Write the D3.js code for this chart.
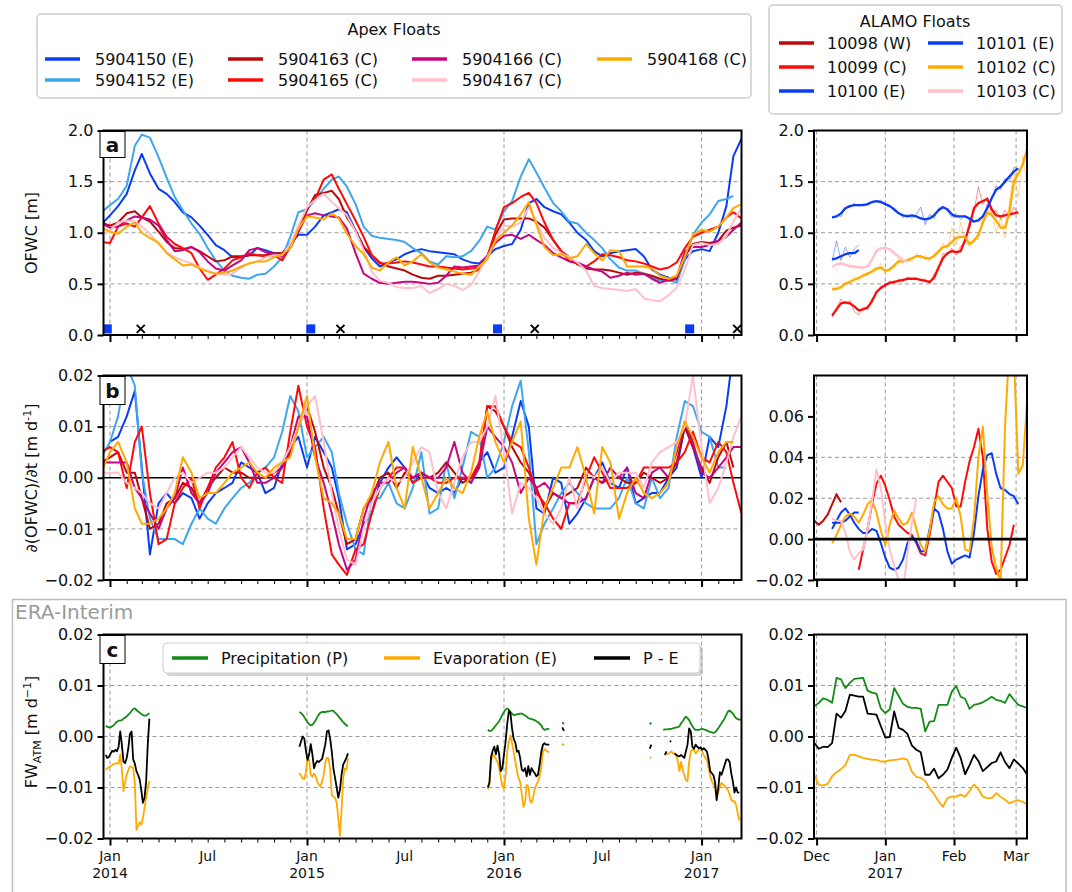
<!DOCTYPE html>
<html>
<head>
<meta charset="utf-8">
<script src="https://cdn.jsdelivr.net/npm/d3@7/dist/d3.min.js"></script>
<style>
  html, body { margin: 0; padding: 0; background: #fff; }
  svg text { font-family: "DejaVu Sans", Verdana, sans-serif; fill: #111; }
</style>
</head>
<body>
<svg id="fig" width="1072" height="892"></svg>
<script>
// ---------------- Apex floats: OFWC [m], semi-monthly (1st / 16th), Dec 16 2013 .. Mar 16 2017 ----------------
const apexIds = ["5904150", "5904152", "5904163", "5904165", "5904166", "5904167", "5904168"];
const apexNames = ["5904150 (E)", "5904152 (E)", "5904163 (C)", "5904165 (C)", "5904166 (C)", "5904167 (C)", "5904168 (C)"];
const apexColors = ["#0a3cf5", "#3ea6ee", "#bb0a0a", "#ff0a0a", "#c8067f", "#ffc0cb", "#ffaa00"];

const ofwc150 = [1.08,1.17,1.26,1.38,1.61,1.77,1.58,1.43,1.38,1.30, 1.20,1.15,1.07,0.98,0.88,0.83,0.76,0.76,0.78,0.85,
  0.83,0.80,0.80,0.89,0.98,0.98,1.06,1.17,1.20,1.23, 1.20,1.02,0.86,0.75,0.67,0.71,0.74,0.79,0.82,0.84,
  0.82,0.81,0.80,0.79,0.74,0.71,0.70,0.77,0.84,0.87, 0.89,1.03,1.29,1.33,1.25,1.21,1.18,1.10,1.00,0.93,
  0.82,0.77,0.80,0.82,0.83,0.84,0.77,0.64,0.59,0.56, 0.54,0.74,0.82,0.84,0.82,1.00,1.26,1.75,1.92];
const ofwc152 = [1.20,1.27,1.33,1.46,1.85,1.96,1.93,1.74,1.54,1.35, 1.22,1.09,0.99,0.85,0.73,0.63,0.58,0.56,0.55,0.59,
  0.60,0.67,0.76,0.96,1.20,1.23,1.32,1.43,1.52,1.55, 1.45,1.28,1.06,0.97,0.95,0.94,0.93,0.91,0.85,0.80,
  0.72,0.69,0.77,0.76,0.77,0.82,0.92,1.06,1.03,1.21, 1.31,1.55,1.72,1.59,1.44,1.29,1.21,1.11,1.09,1.00,
  0.93,0.85,0.74,0.66,0.63,0.63,0.60,0.56,0.53,0.54, 0.51,0.74,0.98,1.10,1.18,1.31,1.33,1.36,null];
const ofwc163 = [1.10,1.07,1.10,1.19,1.21,1.15,1.11,1.01,0.91,0.85, 0.84,0.86,0.82,0.77,0.72,0.73,0.77,0.77,0.78,0.78,
  0.78,0.80,0.80,0.86,1.01,1.22,1.37,1.39,1.41,1.33, 1.15,1.02,0.86,0.78,0.71,0.67,0.65,0.63,0.59,0.56,
  0.55,0.58,0.58,0.59,0.60,0.61,0.64,0.77,0.98,1.13, 1.14,1.14,1.14,1.11,1.05,0.93,0.82,0.76,0.69,0.65,
  0.64,0.64,0.63,0.61,0.59,0.61,0.60,0.58,0.55,0.53, 0.55,0.77,0.89,0.91,0.90,0.92,1.02,1.05,1.07];
const ofwc165 = [0.91,0.90,1.06,1.09,1.06,1.15,1.26,1.09,0.96,0.89, 0.85,0.80,0.65,0.54,0.59,0.65,0.73,0.76,0.80,0.78,
  0.77,0.78,0.73,0.86,1.06,1.24,1.33,1.52,1.57,1.43, 1.28,1.12,0.96,0.78,0.70,0.70,0.71,0.72,0.71,0.69,
  0.67,0.67,0.66,0.65,0.64,0.65,0.66,0.76,1.02,1.25, 1.29,1.35,1.39,1.29,1.10,0.93,0.82,0.72,0.70,0.67,
  0.72,0.79,0.78,0.76,0.73,0.72,0.70,0.67,0.64,0.66, 0.71,0.85,0.96,1.00,1.03,1.06,1.15,1.20,1.14];
const ofwc166 = [1.09,1.05,1.06,1.12,1.16,1.15,1.13,1.07,0.93,0.82, 0.83,0.86,0.81,0.72,0.65,0.63,0.68,0.73,0.83,0.85,
  0.81,0.79,0.77,0.85,1.01,1.17,1.19,1.17,1.16,1.15, 1.04,0.80,0.60,0.55,0.51,0.50,0.51,0.52,0.52,0.51,
  0.50,0.51,0.58,0.67,0.66,0.67,0.68,0.77,0.90,0.97, 0.98,0.94,0.98,0.93,0.88,0.80,0.76,0.72,0.71,0.67,
  0.64,0.62,0.56,0.58,0.61,0.59,0.60,0.55,0.51,0.54, 0.56,0.82,0.86,0.86,0.88,0.92,0.96,1.03,1.10];
const ofwc167 = [0.98,1.02,1.10,1.12,1.11,1.06,0.99,0.89,0.81,0.76, 0.73,0.70,0.66,0.63,0.60,0.59,0.60,0.66,0.70,0.72,
  0.76,0.78,0.78,0.89,1.07,1.25,1.32,1.38,1.30,1.24, 1.17,1.01,0.83,0.62,0.53,0.51,0.47,0.46,0.46,0.48,
  0.41,0.45,0.50,0.48,0.44,0.49,0.62,0.76,0.92,1.07, 1.06,1.10,1.25,1.10,0.95,0.85,0.80,0.76,0.71,0.63,
  0.48,0.46,0.45,0.44,0.43,0.45,0.36,0.34,0.33,0.39, 0.46,0.64,0.88,0.90,0.88,0.89,0.97,1.11,1.24];
const ofwc168 = [1.05,1.01,0.99,1.06,1.10,1.00,0.95,0.90,0.80,0.74, 0.68,0.69,0.65,0.62,0.60,0.61,0.63,0.67,0.70,0.72,
  0.72,0.76,0.79,0.85,1.04,1.16,1.15,1.13,1.19,1.14, 0.99,0.87,0.79,0.66,0.63,0.71,0.76,0.68,0.72,0.79,
  0.71,0.66,0.64,0.62,0.60,0.59,0.67,0.74,0.92,1.00, 1.07,1.18,1.30,1.08,0.86,0.78,0.79,0.75,0.77,0.89,
  0.80,0.73,0.83,0.82,0.67,0.67,0.67,0.65,0.58,0.55, 0.58,0.77,0.98,1.03,1.01,1.06,1.15,1.24,1.28];

// d(OFWC)/dt for the same floats, in mm per day (1e-3 m d-1)
const rate150 = [null,7,8,12,17,2,-15,-5,-3,-5, -3,-4,-8,-5,-3,-2,-1,3,2,1, -3,-2,3,6,8,2,8,5,2,-4,
  -14,-13,-9,-7,-1,2,4,2,-1,1, -2,-3,-2,-3,0,-1,3,5,1,2, 8,15,10,-6,-7,0,-1,-9,-7,-4,
  0,3,-1,-2,2,-5,-4,-3,-3,0, 2,10,6,0,8,6,14,25,null];
const rate152 = [4,7,12,22,18,1,-8,-12,-12,-12, -13,-9,-6,-8,-9,-6,-4,-2,-1,1, 2,4,9,16,13,4,6,8,5,-3,
  -9,-14,-15,-4,-4,-1,-5,-6,-2,5, -7,-6,3,-4,2,9,8,0,2,7, 14,19,5,-13,-9,-6,-3,-1,-3,-5,
  -6,-6,-6,-4,0,-5,-6,0,-4,-2, 8,15,14,9,8,2,2,null,null];
const rate163 = [3,4,5,1,1,-4,-10,-9,-5,-4, -1,-2,-5,-2,0,2,1,1,0,0, 0,1,2,5,10,14,9,2,-2,-7,
  -13,-12,-6,-4,0,1,-2,1,0,1, 0,1,3,1,-1,0,2,14,13,10, 6,3,1,-2,-6,-3,-4,-3,-2,2,
  0,-1,0,0,-1,-1,1,0,-1,0, 3,10,6,2,-1,4,7,2,null];
const rate165 = [5,6,5,-2,7,10,-3,-13,-12,-5, -2,0,-6,-2,2,4,7,0,-2,1, 2,0,-1,9,18,10,6,-6,-15,-17,
  -19,-14,-13,-7,-2,0,2,2,-1,0, 0,-1,-1,0,0,0,3,14,14,10, 7,6,2,-3,-5,-8,-10,-5,-5,0,
  4,1,-2,-2,-2,-1,2,2,2,2, 3,5,9,4,3,7,5,-1,-7];
const rate166 = [3,3,3,3,-2,-4,-7,-10,-6,-4, 2,-3,-5,-3,1,3,5,6,3,-1, -1,0,2,6,12,12,4,-1,-7,-13,
  -18,-16,-8,-3,-1,-1,1,2,0,1, 0,0,2,7,1,-1,2,10,8,6, 3,-3,0,-2,-1,-3,-4,-5,-5,-4,
  0,-1,2,0,2,-3,-4,1,2,0, 5,11,7,1,0,2,4,6,6];
const rate167 = [1,1,1,-1,-2,-3,-5,-6,-3,0, 1,-1,0,1,1,2,4,6,4,2, 1,1,3,6,10,14,16,7,-3,-10,
  -16,-17,-10,-5,-2,0,-1,0,3,6, 5,-3,-6,-1,4,7,7,10,16,5, -7,-1,-2,-4,-7,-9,-6,0,-6,1,
  0,2,-1,1,1,1,-2,3,5,6, 7,10,20,6,-5,-2,3,8,12];
const rate168 = [1,5,7,3,-6,-9,-9,-8,-6,-3, 4,1,-4,-3,-3,-1,1,2,3,1, 0,2,3,4,10,16,4,-4,-5,-7,
  -12,-12,-6,-3,3,7,-2,-6,6,0, -6,-3,0,-2,-3,1,8,13,7,3, 7,11,-8,-17,-6,-2,2,2,6,0,
  -7,6,3,-8,-3,0,-3,-4,-3,-1, 6,11,8,4,1,5,7,7,null];

const apexOfwc = [ofwc150, ofwc152, ofwc163, ofwc165, ofwc166, ofwc167, ofwc168];
const apexRate = [rate150, rate152, rate163, rate165, rate166, rate167, rate168];

// deployment (squares) and end-of-record (crosses) dates
const deployDates = ["2013-12-27", "2015-01-08", "2015-12-20", "2016-12-10"];
const endDates = ["2014-02-27", "2015-03-04", "2016-02-27", "2017-03-08"];

// ---------------- ERA-Interim along the Apex tracks, mm per day, 3-day steps ----------------
const eraStarts = ["2013-12-24", "2014-12-18", "2015-12-02", "2016-04-18", "2016-09-27", "2016-10-22"];
const precipL = [
  [2.1,1.9,1.8,1.8,2.0,2.2,2.6,2.9,3.1,3.1,3.2,3.5,3.7,3.9,4.3,4.6,5.0,5.4,5.5,5.2,4.9,4.7,4.4,4.2,4.1,4.1,4.3,4.6],
  [4.8,4.6,4.3,3.8,3.3,2.8,2.4,2.2,2.3,2.7,3.2,3.8,4.3,4.7,4.8,4.8,4.8,4.9,4.9,5.0,5.1,5.0,4.7,4.4,4.0,3.6,3.2,2.8,2.5,2.2,2.0],
  [1.3,1.1,1.1,1.4,1.8,2.2,2.6,3.0,3.6,4.3,4.8,5.3,5.5,5.3,4.8,4.5,4.2,4.2,4.4,4.4,4.5,4.5,4.3,4.1,3.9,3.6,3.5,3.4,3.3,3.2,3.0,2.8,2.5,2.2,1.6,1.3,1.4,1.5,1.5],
  [2.8,2.4],
  [2.4,2.7],
  [1.3,1.4,1.4,1.4,1.5,1.5,1.6,1.7,1.8,1.8,2.0,2.6,3.0,3.5,3.9,3.6,3.2,2.6,2.0,1.5,1.3,1.3,1.3,1.4,1.5,1.4,1.3,1.2,1.0,0.9,0.8,0.7,0.8,1.2,1.6,2.1,2.6,3.1,3.6,4.3,4.9,5.1,4.8,4.5,4.0,3.6,3.4,3.3,3.3]
];
const evapL = [
  [-6.5,-6.3,-6.0,-5.9,-5.6,-5.4,-5.3,-5.2,-5.3,-3.5,-6.5,-10.7,-9.0,-7.5,-6.5,-5.9,-5.9,-6.2,-9.0,-18.3,-17.5,-16.8,-17.3,-16.0,-14.0,-12.0,-10.1,-8.7],
  [-7.2,-7.7,-8.2,-8.4,-7.0,-4.0,-4.8,-7.5,-7.9,-7.3,-7.8,-8.8,-9.5,-9.8,-8.8,-7.5,-5.0,-4.2,-4.3,-6.5,-11.5,-11.8,-12.0,-13.0,-16.0,-19.5,-14.5,-8.2,-6.3,-6.5,-4.3],
  [-10.4,-9.5,-5.0,-3.5,-3.8,-4.4,-5.0,-6.2,-8.0,-9.8,-10.2,-7.5,-3.0,-1.0,0.2,-1.3,-3.0,-4.9,-6.8,-8.2,-8.9,-11.4,-13.8,-12.9,-9.5,-9.8,-12.5,-13.0,-12.0,-10.2,-9.5,-8.8,-7.8,-6.2,-3.0,-2.5,-2.7,-3.0,-3.0],
  [-1.4,-1.8],
  [-4.2,-4.1],
  [null,-3.6,-3.4,-3.4,-3.2,-2.9,-3.3,-3.3,-3.6,-4.9,-6.8,-5.0,-6.5,-7.5,-8.6,-8.8,-5.0,-2.9,-2.6,-2.6,-3.3,-2.9,-2.6,-2.4,-2.9,-3.6,-4.2,-4.6,-6.2,-7.8,-8.8,-9.4,-10.1,-11.7,-11.0,-9.8,-9.1,-9.4,-9.8,-10.1,-10.5,-11.4,-12.4,-12.7,-12.7,-13.4,-15.0,-16.5,null]
];
const pmeL = [
  [-3.6,-4.2,-4.0,-3.4,-2.8,-3.0,-2.6,-2.9,-2.0,1.0,-1.6,-4.9,-5.2,-4.2,-2.3,0.5,1.0,-4.5,-5.3,-6.8,-7.5,-8.4,-10.5,-13.0,-12.0,-8.8,-1.6,3.5],
  [-2.0,-1.0,0.0,-0.4,-2.7,-4.6,-3.5,-1.5,-3.5,-6.2,-5.3,-4.8,-5.0,-4.7,-4.4,-3.0,-1.5,1.0,1.2,-0.5,-3.0,-6.3,-8.1,-10.0,-12.0,-10.5,-7.5,-5.5,-4.9,-4.2,-3.3],
  [-10.0,-9.0,-4.0,-2.8,-2.0,-3.5,-1.8,-3.5,-6.8,-6.2,-3.5,-1.0,2.5,5.0,4.5,1.5,-0.5,-1.2,-3.0,-2.8,-4.3,-6.5,-6.8,-6.2,-7.8,-5.8,-7.5,-6.2,-6.8,-7.2,-7.8,-7.5,-5.5,-3.0,-1.7,-1.3,-1.6,-1.6,-1.6],
  [1.8,1.1],
  [-2.4,-1.6],
  [null,-3.6,-2.9,null,-0.9,-1.0,null,-3.3,-3.6,-3.8,-3.9,-3.6,-3.9,-4.2,-2.9,-1.6,1.6,1.0,-2.0,-2.4,-1.6,-2.0,-2.3,-2.1,-2.6,-2.3,-2.6,-3.0,-4.5,-6.8,-7.2,-7.6,-9.0,-12.5,-10.0,-7.0,-7.5,-6.5,-5.5,-4.5,-4.5,-5.0,-7.2,-8.8,-11.0,-10.0,-11.0,-11.0,null]
];

// ---------------- ALAMO floats, 2-day steps from Nov 30 2016 ----------------
const alamoNames = ["10098 (W)", "10099 (C)", "10100 (E)", "10101 (E)", "10102 (C)", "10103 (C)"];
const alamoColors = ["#bb0a0a", "#ff0a0a", "#0a3cf5", "#0a3cf5", "#ffaa00", "#ffc0cb"];

// smoothed OFWC [m]
const aOfwc10099 = [null,null,null,null,0.19,0.25,0.31,0.32,0.31,0.28, 0.24,0.25,0.27,0.33,0.42,0.46,0.49,0.51,0.52,0.53,
  0.54,0.55,0.55,0.55,0.54,0.53,0.52,0.56,0.66,0.75, 0.80,0.82,0.81,0.82,0.93,1.07,1.24,1.29,1.31,1.33,
  1.23,1.17,1.16,1.17,1.18,1.19,1.20];
const aOfwc10100 = [null,null,null,null,0.74,0.75,0.77,0.79,0.80,0.80,0.83];
const aOfwc10101 = [null,null,null,null,1.15,1.16,1.19,1.24,1.26,1.27, 1.27,1.27,1.28,1.30,1.31,1.30,1.28,1.26,1.23,1.19,
  1.17,1.16,1.17,1.16,1.14,1.13,1.14,1.17,1.22,1.25, 1.23,1.18,1.16,1.16,1.16,1.14,1.11,1.12,1.16,1.24,
  1.34,1.42,1.45,1.50,1.55,1.60,1.63];
const aOfwc10102 = [null,null,null,null,0.45,0.45,0.47,0.50,0.52,0.54, 0.56,0.58,0.60,0.62,0.65,0.66,0.63,0.64,0.68,0.72,
  0.72,0.73,0.75,0.77,0.77,0.75,0.75,0.77,0.82,0.86, 0.87,0.91,0.95,0.96,0.96,0.89,0.92,0.98,1.10,1.20,
  1.17,1.12,1.05,1.05,1.20,1.50,1.58,1.67,1.82];
const aOfwc10103 = [null,null,null,null,0.67,0.69,0.70,0.69,0.67,0.67, 0.66,0.66,0.67,0.74,0.82,0.85,0.85,0.84,0.80,0.77,
  0.73,0.72];

// unsmoothed profile values [m]
const aRaw10099 = [null,null,null,null,0.17,0.27,0.35,0.30,0.34,0.23, 0.20,0.27,0.25,0.36,0.40,0.48,0.47,0.53,0.50,0.55,
  0.52,0.57,0.54,0.56,0.53,0.55,0.50,0.60,0.63,0.80, 0.78,0.85,0.78,0.87,0.90,1.12,1.20,1.45,1.28,1.35,
  1.18,1.22,1.13,1.22,1.15,1.25,1.18];
const aRaw10100 = [null,null,null,null,0.72,0.92,0.73,0.86,0.76,0.84,0.88];
const aRaw10101 = [null,null,null,null,1.14,1.17,1.16,1.25,1.25,1.29, 1.26,1.28,1.27,1.31,1.30,1.32,1.27,1.27,1.21,1.20,
  1.15,1.18,1.14,1.18,1.25,1.08,1.18,1.14,1.24,1.26, 1.21,1.15,1.19,1.13,1.17,1.12,1.10,1.14,1.15,1.28,
  1.33,1.46,1.42,1.53,1.50,1.64,1.62];
const aRaw10102 = [null,null,null,null,0.43,0.48,0.45,0.52,0.50,0.57, 0.53,0.60,0.58,0.64,0.63,0.70,0.60,0.66,0.66,0.75,
  0.70,0.76,0.72,0.80,0.74,0.78,0.72,0.80,0.80,0.90, 0.84,1.05,0.88,1.10,0.92,0.86,0.95,0.93,1.15,1.20,
  1.25,1.00,1.15,0.95,1.30,1.60,1.35,1.75,1.45];
const aRaw10103 = [null,null,null,null,0.66,0.62,0.72,0.66,0.70,0.64, 0.68,0.65,0.69,0.72,0.86,0.82,0.88,0.82,0.82,0.74,
  0.76,0.70];

// d(OFWC)/dt, mm per day
const aRate10098 = [9,7,9,12,17,22,18];
const aRate10099 = [null,null,null,null,null,null,null,null,null,null, -15,-5,5,17,27,31,26,19,11,7,
  5,3,2,-2,-7,-8,2,15,28,31, 28,25,16,16,28,38,45,54,40,5, -11,-17,-15,-9,-3,7];
const aRate10100 = [null,null,null,null,8,8,8,9,11,13,13];
const aRate10101 = [null,null,null,null,5,9,13,15,12,8, 5,3,3,5,4,-2,-9,-14,-15,-14,
  -10,-2,1,-1,-6,-6,5,15,13,5, -6,-12,-10,-9,-8,-9,3,21,34,41, 42,32,25,24,22,21,17];
const aRate10102 = [null,null,null,null,-2,2,7,11,12.5,11, 8,12,17,19,13,4,-3,7,14,10,
  7,8,13,5,-3,-6,4,18,21,17, 15,15,20,11,-5,-6,10,40,55,22, -4,-14,-21,55,95,90,32,36,68];
const aRate10103 = [null,null,null,null,10,9,9,3,-6,-10, -7,-5,5,18,34,25,8,-5,-13,-20, -25,-7,8,20];

const alamoOfwc = [null, aOfwc10099, aOfwc10100, aOfwc10101, aOfwc10102, aOfwc10103];
const alamoRaw = [null, aRaw10099, aRaw10100, aRaw10101, aRaw10102, aRaw10103];
const alamoRate = [aRate10098, aRate10099, aRate10100, aRate10101, aRate10102, aRate10103];

// ERA-Interim for the ALAMO period, mm per day
const precipR = [5.9,6.6,7.5,7.2,6.6,11.5,11.2,9.5,10.5,11.3, 11.4,11.5,9.0,8.6,8.4,5.5,4.6,5.3,9.5,8.0,
  6.4,5.8,5.6,5.6,5.4,1.0,2.9,3.0,6.2,6.2, 6.2,8.8,9.9,7.8,7.4,5.4,6.2,6.4,6.7,7.2, 7.8,7.2,7.0,6.6,8.3,7.2,6.2,5.9,5.6];
const evapR = [-7.5,-9.5,-9.6,-9.3,-7.8,-7.0,-6.4,-5.6,-3.6,-3.6, -3.9,-4.2,-4.4,-4.6,-4.6,-4.9,-4.9,-4.7,-4.6,-4.5,
  -4.3,-4.6,-6.9,-7.9,-8.1,-8.7,-10.2,-11.3,-12.7,-13.8, -12.1,-11.8,-11.8,-11.4,-11.8,-10.7,-9.4,-10.3,-11.8,-12.1,
  -12.1,-11.1,-11.8,-12.4,-13.1,-12.7,-12.5,-12.8,-13.4];
const pmeR = [-1.3,-2.4,-2.0,-2.1,-1.3,4.5,3.7,5.0,8.2,8.0, 7.8,7.8,4.5,4.4,4.3,2.0,-0.2,-0.1,4.9,1.7,
  1.3,0.5,-1.8,-2.6,-3.1,-7.5,-7.5,-6.3,-8.2,-7.5, -6.5,-4.2,-2.2,-4.2,-7.4,-5.6,-3.6,-4.8,-6.8,-6.0,
  -5.2,-4.9,-3.1,-5.0,-6.2,-4.5,-5.3,-6.2,-7.5];

const eraColors = {P: "#158b15", E: "#ffaa00", PE: "#000000"};
const eraLabels = ["Precipitation (P)", "Evaporation (E)", "P - E"];

// ---------------- time grids ----------------
const parse = d3.utcParse("%Y-%m-%d");
const halfMonths = d3.utcMonth.range(parse("2013-12-01"), parse("2017-04-01"))
  .flatMap(m => [m, d3.utcDay.offset(m, 15)]).slice(1, 80);
const alamoDays = d3.utcDay.range(parse("2016-11-30"), parse("2017-03-07"), 2);
const eraDays = (start, n) => d3.range(n).map(i => d3.utcDay.offset(parse(start), 3 * i));

// ---------------- layout & scales ----------------
const svg = d3.select("#fig");
const LX = [103.5, 741.5], RX = [814, 1027];
const rowA = [335, 130.5], rowB = [580, 375.5], rowC = [838.5, 634.5];

const xL = d3.scaleUtc().domain([parse("2013-12-20"), parse("2017-03-16")]).range(LX);
const xR = d3.scaleUtc().domain([new Date(Date.UTC(2016, 10, 29, 20)), new Date(Date.UTC(2017, 2, 5, 22))]).range(RX);
const yA = d3.scaleLinear().domain([0, 2]).range(rowA);
const yB = d3.scaleLinear().domain([-0.02, 0.02]).range(rowB);
const yBR = d3.scaleLinear().domain([-0.02, 0.08]).range(rowB);
const yC = d3.scaleLinear().domain([-0.02, 0.02]).range(rowC);

const jans = ["2014-01-01", "2015-01-01", "2016-01-01", "2017-01-01"].map(parse);
const months = d3.utcMonth.range(parse("2014-01-01"), parse("2017-03-17")).filter(d => d.getUTCMonth() !== 0);
const julys = ["2014-07-01", "2015-07-01", "2016-07-01"].map(parse);
const rightMonths = ["2016-12-01", "2017-01-01", "2017-02-01", "2017-03-01"].map(parse);
const rightNames = ["Dec", "Jan", "Feb", "Mar"];

// ERA-Interim frame behind the bottom row
svg.append("rect").attr("x", 12.5).attr("y", 599.5).attr("width", 1053.5).attr("height", 320)
  .attr("fill", "none").attr("stroke", "#bdbdbd").attr("stroke-width", 1.5);
svg.append("text").attr("x", 15).attr("y", 619).attr("font-size", 20).style("fill", "#9a9a9a").text("ERA-Interim");

let clipCount = 0;
function makePanel(x, y, gridY, gridX) {
  const g = svg.append("g");
  const [x0, x1] = x.range(), [yb, yt] = y.range();
  const id = "clip" + (clipCount++);
  svg.append("clipPath").attr("id", id).append("rect")
    .attr("x", x0).attr("y", yt).attr("width", x1 - x0).attr("height", yb - yt);
  const grid = g.append("g").attr("stroke", "#9a9a9a").attr("stroke-width", 1).attr("stroke-dasharray", "4,3");
  gridY.forEach(v => grid.append("line").attr("x1", x0).attr("x2", x1).attr("y1", y(v)).attr("y2", y(v)));
  gridX.forEach(d => grid.append("line").attr("x1", x(d)).attr("x2", x(d)).attr("y1", yt).attr("y2", yb));
  const plot = g.append("g").attr("clip-path", `url(#${id})`);
  return {g, plot, x, y, x0, x1, yb, yt};
}

function finishPanel(p, yTicks, yFmt, major, minor) {
  const gy = p.g.append("g").attr("transform", `translate(${p.x0},0)`)
    .call(d3.axisLeft(p.y).tickValues(yTicks).tickFormat(yFmt).tickSize(6).tickPadding(4));
  gy.select(".domain").remove();
  gy.selectAll("line").attr("stroke", "#000").attr("stroke-width", 2);
  gy.selectAll("text").attr("font-size", 16);
  if (minor) {
    const gm = p.g.append("g").attr("transform", `translate(0,${p.yb})`)
      .call(d3.axisBottom(p.x).tickValues(minor).tickFormat("").tickSize(4));
    gm.select(".domain").remove();
    gm.selectAll("line").attr("stroke", "#000").attr("stroke-width", 1);
  }
  const gx = p.g.append("g").attr("transform", `translate(0,${p.yb})`)
    .call(d3.axisBottom(p.x).tickValues(major).tickFormat("").tickSize(7));
  gx.select(".domain").remove();
  gx.selectAll("line").attr("stroke", "#000").attr("stroke-width", 2);
  p.g.append("rect").attr("x", p.x0).attr("y", p.yt).attr("width", p.x1 - p.x0).attr("height", p.yb - p.yt)
    .attr("fill", "none").attr("stroke", "#000").attr("stroke-width", 2);
}

function drawLine(p, dates, values, color, width, factor = 1, opacity = 1) {
  const pts = dates.map((d, i) => [d, values[i]]);
  const line = d3.line().defined(q => q[1] != null).x(q => p.x(q[0])).y(q => p.y(q[1] * factor));
  p.plot.append("path").attr("d", line(pts)).attr("fill", "none").attr("stroke", color)
    .attr("stroke-width", width).attr("stroke-linejoin", "round").attr("stroke-opacity", opacity);
}

function panelLetter(p, letter, h) {
  p.g.append("rect").attr("x", p.x0 - 3.5).attr("y", p.yt + 1).attr("width", 25).attr("height", h)
    .attr("fill", "#fff").attr("stroke", "#000").attr("stroke-width", 1);
  p.g.append("text").attr("x", p.x0 + 9).attr("y", p.yt + 1 + h / 2).attr("dy", "0.36em")
    .attr("text-anchor", "middle").attr("font-size", 20).attr("font-weight", "bold").text(letter);
}

const f1 = d3.format(".1f"), f2 = d3.format(".2f");
const mm = 0.001;

// ---------------- panel a (left) ----------------
const pa = makePanel(xL, yA, [0.5, 1, 1.5], jans);
apexOfwc.forEach((vals, k) => drawLine(pa, halfMonths, vals, apexColors[k], 2));
pa.plot.selectAll("rect.dep").data(deployDates).join("rect").attr("class", "dep")
  .attr("x", d => xL(parse(d)) - 4.5).attr("y", yA(0.06) - 4.5).attr("width", 9).attr("height", 9)
  .attr("fill", "#0a3cf5");
endDates.forEach(d => {
  const cx = xL(parse(d)), cy = yA(0.06);
  pa.plot.append("path").attr("d", `M${cx - 4},${cy - 4}L${cx + 4},${cy + 4}M${cx - 4},${cy + 4}L${cx + 4},${cy - 4}`)
    .attr("stroke", "#000").attr("stroke-width", 2);
});
finishPanel(pa, [0, 0.5, 1, 1.5, 2], f1, jans, months);
panelLetter(pa, "a", 26);

// ---------------- panel b (left) ----------------
const pb = makePanel(xL, yB, [-0.01, 0.01], jans);
pb.plot.append("line").attr("x1", LX[0]).attr("x2", LX[1]).attr("y1", yB(0)).attr("y2", yB(0))
  .attr("stroke", "#000").attr("stroke-width", 1.3);
apexRate.forEach((vals, k) => drawLine(pb, halfMonths, vals, apexColors[k], 2, mm));
finishPanel(pb, [-0.02, -0.01, 0, 0.01, 0.02], f2, jans, months);
panelLetter(pb, "b", 28);

// ---------------- panel c (left) ----------------
const pc = makePanel(xL, yC, [-0.01, 0, 0.01], jans);
eraStarts.forEach((s, k) => {
  const days = eraDays(s, precipL[k].length);
  drawLine(pc, days, precipL[k], eraColors.P, 1.8, mm);
  drawLine(pc, days, evapL[k], eraColors.E, 1.8, mm);
  drawLine(pc, days, pmeL[k], eraColors.PE, 1.8, mm);
});
finishPanel(pc, [-0.02, -0.01, 0, 0.01, 0.02], f2, jans, months);
panelLetter(pc, "c", 28);
jans.forEach(d => {
  pc.g.append("text").attr("x", xL(d)).attr("y", 861).attr("text-anchor", "middle").attr("font-size", 14).text("Jan");
  pc.g.append("text").attr("x", xL(d)).attr("y", 878).attr("text-anchor", "middle").attr("font-size", 14).text(d.getUTCFullYear());
});
julys.forEach(d => pc.g.append("text").attr("x", xL(d)).attr("y", 861).attr("text-anchor", "middle").attr("font-size", 14).text("Jul"));

// legend for panel c
const lc = svg.append("g");
lc.append("rect").attr("x", 166).attr("y", 646).attr("width", 537).attr("height", 30).attr("rx", 4)
  .attr("fill", "#b8b8b8").attr("opacity", 0.6);
lc.append("rect").attr("x", 163).attr("y", 643).attr("width", 537).attr("height", 30).attr("rx", 4)
  .attr("fill", "#fff").attr("stroke", "#cfcfcf").attr("stroke-width", 1);
[[172, eraColors.P], [384, eraColors.E], [594, eraColors.PE]].forEach(([lx, col], k) => {
  lc.append("line").attr("x1", lx).attr("x2", lx + 36).attr("y1", 658).attr("y2", 658).attr("stroke", col).attr("stroke-width", 3.5);
  lc.append("text").attr("x", lx + 49).attr("y", 658).attr("dy", "0.35em").attr("font-size", 16).text(eraLabels[k]);
});

// ---------------- right column ----------------
const ra = makePanel(xR, yA, [0.5, 1, 1.5], rightMonths);
alamoRaw.forEach((vals, k) => { if (vals) drawLine(ra, alamoDays, vals, alamoColors[k], 1, 1, 0.45); });
alamoOfwc.forEach((vals, k) => { if (vals) drawLine(ra, alamoDays, vals, alamoColors[k], 2.3); });
finishPanel(ra, [0, 0.5, 1, 1.5, 2], f1, rightMonths, null);

const rb = makePanel(xR, yBR, [0.02, 0.04], rightMonths);
alamoRate.forEach((vals, k) => drawLine(rb, alamoDays, vals, alamoColors[k], 2, mm));
rb.plot.append("line").attr("x1", RX[0]).attr("x2", RX[1]).attr("y1", yBR(0)).attr("y2", yBR(0))
  .attr("stroke", "#000").attr("stroke-width", 2.6);
rb.plot.append("line").attr("x1", RX[0]).attr("x2", RX[1]).attr("y1", yBR(-0.02)).attr("y2", yBR(-0.02))
  .attr("stroke", "#000").attr("stroke-width", 3);
finishPanel(rb, [-0.02, 0, 0.02, 0.04, 0.06], f2, rightMonths, null);

const rc = makePanel(xR, yC, [-0.01, 0, 0.01], rightMonths);
drawLine(rc, alamoDays, precipR, eraColors.P, 1.8, mm);
drawLine(rc, alamoDays, evapR, eraColors.E, 1.8, mm);
drawLine(rc, alamoDays, pmeR, eraColors.PE, 1.8, mm);
finishPanel(rc, [-0.02, -0.01, 0, 0.01, 0.02], f2, rightMonths, null);
rightMonths.forEach((d, k) => {
  rc.g.append("text").attr("x", xR(d)).attr("y", 861).attr("text-anchor", "middle").attr("font-size", 14).text(rightNames[k]);
});
rc.g.append("text").attr("x", xR(rightMonths[1])).attr("y", 878).attr("text-anchor", "middle").attr("font-size", 14).text("2017");

// ---------------- y-axis labels ----------------
function yLabel(cx, cy, build) {
  const t = svg.append("text").attr("transform", `translate(${cx},${cy}) rotate(-90)`)
    .attr("text-anchor", "middle").attr("font-size", 16);
  build(t);
}
yLabel(37, 233, t => t.text("OFWC [m]"));
yLabel(37, 478, t => {
  t.append("tspan").text("\u2202(OFWC)/\u2202t [m d");
  t.append("tspan").attr("dy", -6).attr("font-size", 11).text("-1");
  t.append("tspan").attr("dy", 6).text("]");
});
yLabel(37, 732, t => {
  t.append("tspan").text("FW");
  t.append("tspan").attr("dy", 4).attr("font-size", 11).text("ATM");
  t.append("tspan").attr("dy", -4).text(" [m d");
  t.append("tspan").attr("dy", -6).attr("font-size", 11).text("\u22121");
  t.append("tspan").attr("dy", 6).text("]");
});

// ---------------- float legends ----------------
const la = svg.append("g");
la.append("rect").attr("x", 37).attr("y", 14).attr("width", 714).attr("height", 84).attr("rx", 4)
  .attr("fill", "#fff").attr("stroke", "#cccccc").attr("stroke-width", 1.5);
la.append("text").attr("x", 394).attr("y", 29).attr("dy", "0.35em").attr("text-anchor", "middle").attr("font-size", 16).text("Apex Floats");
const apexCols = [45, 228, 412, 597], apexRows = [59, 80];
apexNames.forEach((name, k) => {
  const lx = apexCols[Math.floor(k / 2)], ly = apexRows[k % 2];
  la.append("line").attr("x1", lx).attr("x2", lx + 35).attr("y1", ly).attr("y2", ly).attr("stroke", apexColors[k]).attr("stroke-width", 3.5);
  la.append("text").attr("x", lx + 50).attr("y", ly).attr("dy", "0.35em").attr("font-size", 16).text(name);
});

const lr = svg.append("g");
lr.append("rect").attr("x", 769).attr("y", 5).attr("width", 293).attr("height", 109).attr("rx", 4)
  .attr("fill", "#fff").attr("stroke", "#cccccc").attr("stroke-width", 1.5);
lr.append("text").attr("x", 915).attr("y", 21).attr("dy", "0.35em").attr("text-anchor", "middle").attr("font-size", 16).text("ALAMO Floats");
const alamoCols = [779, 928], alamoRows = [43, 67, 91];
alamoNames.forEach((name, k) => {
  const lx = alamoCols[Math.floor(k / 3)], ly = alamoRows[k % 3];
  lr.append("line").attr("x1", lx).attr("x2", lx + 35).attr("y1", ly).attr("y2", ly).attr("stroke", alamoColors[k]).attr("stroke-width", 3.5);
  lr.append("text").attr("x", lx + 48).attr("y", ly).attr("dy", "0.35em").attr("font-size", 16).text(name);
});
</script>
</body>
</html>
